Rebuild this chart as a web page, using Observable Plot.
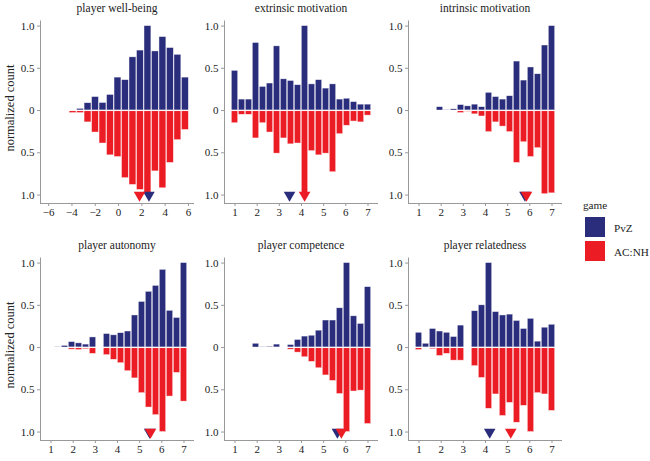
<!DOCTYPE html>
<html><head><meta charset="utf-8">
<script src="https://cdn.jsdelivr.net/npm/d3@7"></script>
<script src="https://cdn.jsdelivr.net/npm/@observablehq/plot@0.6"></script>
<style>
body{margin:0;background:#fff;}
#root{position:relative;width:650px;height:461px;font-family:"Liberation Serif","DejaVu Serif",serif;color:#222;background:#fff;}
#root svg, #root svg text{font-family:"Liberation Serif","DejaVu Serif",serif !important;}
.title{position:absolute;font-size:11.5px;transform:translate(-50%,-50%);white-space:nowrap;}
.ylab{position:absolute;font-size:12.5px;transform:translate(-50%,-50%) rotate(-90deg);white-space:nowrap;}
.panel{position:absolute;}
.leg{position:absolute;font-size:11.2px;white-space:nowrap;transform:translateY(-50%);}
.sw{position:absolute;width:20px;height:20px;}
</style></head><body><div id="root"></div>
<script>
// ---- data ----
const titles = ["player well-being","extrinsic motivation","intrinsic motivation","player autonomy","player competence","player relatedness"];
const games = ["PvZ","AC:NH"];
const gameColors = ["#2a2d7c","#eb1c24"];

const wellbeingPvZ  = [0,0,0.02,0.087,0.16,0.09,0.185,0.39,0.36,0.63,0.71,1.0,0.70,0.87,0.74,0.66,0.39];
const wellbeingACNH = [0.01,0.03,0.03,0.14,0.26,0.39,0.53,0.55,0.80,0.88,0.94,0.99,0.72,0.92,0.62,0.35,0.23];

const extrinsicPvZ  = [0.47,0.13,0.13,0.80,0.28,0.32,0.76,0.37,0.35,0.30,1.0,0.31,0.36,0.26,0.31,0.13,0.14,0.10,0.07,0.07];
const extrinsicACNH = [0.15,0.05,0.05,0.33,0.15,0.26,0.51,0.33,0.40,0.39,1.0,0.48,0.53,0.51,0.73,0.28,0.18,0.13,0.14,0.06];

const intrinsicPvZ  = [0,0,0,0.04,0.005,0.015,0.065,0.05,0.07,0.04,0.21,0.16,0.13,0.17,0.58,0.355,0.51,0.43,0.77,1.0];
const intrinsicACNH = [0,0,0,0,0,0,0.03,0.015,0.045,0.07,0.255,0.14,0.19,0.255,0.62,0.375,0.55,0.445,0.99,0.98];

const autonomyPvZ  = [0,0.005,0.02,0.065,0.05,0.035,0.12,0,0.16,0.145,0.17,0.19,0.38,0.54,0.66,0.73,0.92,0.435,0.35,1.0];
const autonomyACNH = [0,0,0,0.025,0.03,0.02,0.075,0,0.09,0.145,0.185,0.28,0.365,0.54,0.71,0.80,1.0,0.58,0.30,0.64];

const competencePvZ  = [0,0,0,0.045,0.005,0.01,0.035,0,0.03,0.09,0.13,0.14,0.20,0.32,0.32,0.465,1.0,0.37,0.28,0.715];
const competenceACNH = [0,0,0,0,0,0.01,0.01,0,0.025,0.06,0.115,0.17,0.245,0.33,0.395,0.55,1.0,0.52,0.51,0.905];

const relatednessPvZ  = [0.175,0.045,0.22,0.19,0.175,0.125,0.26,0,0.43,0.50,1.0,0.42,0.38,0.39,0.315,0.22,0.34,0.07,0.235,0.27];
const relatednessACNH = [0.03,0.01,0.02,0.10,0.075,0.155,0.155,0,0.22,0.36,0.725,0.555,0.81,0.655,0.89,0.69,1.0,0.54,0.555,0.75];

const meansPvZ  = [2.61, 3.46, 5.78, 5.45, 5.62, 4.19];
const meansACNH = [1.80, 4.14, 5.85, 5.49, 5.80, 5.14];

const wellbeingTicks = [-6,-4,-2,0,2,4,6];
const likertTicks = [1,2,3,4,5,6,7];
const countTicks = [-1,-0.5,0,0.5,1];

// histogram bins (centre of first bin, bin width)
const wellbeingBins = {first: -4.55, width: 0.643};
const likertBins = {first: 1, width: 6/19};

// ---- build ----
const series = [
  [wellbeingPvZ, wellbeingACNH, wellbeingBins, wellbeingTicks, [-6.7, 6.52]],
  [extrinsicPvZ, extrinsicACNH, likertBins, likertTicks, [0.526, 7.474]],
  [intrinsicPvZ, intrinsicACNH, likertBins, likertTicks, [0.526, 7.474]],
  [autonomyPvZ, autonomyACNH, likertBins, likertTicks, [0.526, 7.474]],
  [competencePvZ, competenceACNH, likertBins, likertTicks, [0.526, 7.474]],
  [relatednessPvZ, relatednessACNH, likertBins, likertTicks, [0.526, 7.474]]
];
const yDomain = [-1.1, 1.06];
const serif = '"Liberation Serif", "DejaVu Serif", serif';

const triangleDown = {
  draw(ctx, size) {
    const y = Math.sqrt(size / (Math.sqrt(3) * 3));
    ctx.moveTo(0, 2 * y);
    ctx.lineTo(-Math.sqrt(3) * y, -y);
    ctx.lineTo(Math.sqrt(3) * y, -y);
    ctx.closePath();
  }
};

const root = document.getElementById("root");
const colLeft = [0, 184, 368];
const rowTop = [0, 237];

series.forEach(([pvz, acnh, bins, ticks, xDomain], p) => {
  const bars = [];
  pvz.forEach((v, i) => {
    const c = bins.first + i * bins.width;
    if (v > 0) bars.push({x1: c - bins.width / 2, x2: c + bins.width / 2, y1: 0, y2: v, game: "PvZ"});
  });
  acnh.forEach((v, i) => {
    const c = bins.first + i * bins.width;
    if (v > 0) bars.push({x1: c - bins.width / 2, x2: c + bins.width / 2, y1: 0, y2: -v, game: "AC:NH"});
  });
  const means = [{x: meansPvZ[p], game: "PvZ"}, {x: meansACNH[p], game: "AC:NH"}];

  const chart = Plot.plot({
    width: 195, height: 223,
    marginLeft: 40, marginRight: 1, marginTop: 20.5, marginBottom: 20,
    style: {fontFamily: serif, fontSize: "10.5px", color: "#222", background: "transparent", overflow: "visible"},
    x: {domain: xDomain},
    y: {domain: yDomain},
    color: {domain: games, range: gameColors},
    marks: [
      Plot.rect(bars, {x1: "x1", x2: "x2", y1: "y1", y2: "y2", fill: "game", stroke: "white", strokeWidth: 0.6, strokeOpacity: 0.7, insetLeft: 0.3, insetRight: 0.3}),
      Plot.ruleY([0], {stroke: "white", strokeWidth: 1}),
      Plot.dot(means, {x: "x", y: () => -1, fill: "game", symbol: triangleDown, r: 4.3}),
      Plot.ruleX([xDomain[0]], {stroke: "#999", strokeWidth: 1}),
      Plot.ruleY([yDomain[0]], {stroke: "#999", strokeWidth: 1}),
      Plot.axisY(countTicks, {tickSize: 3, tickPadding: 3, stroke: "#999", fill: "#222", fontFamily: serif, fontSize: 11,
        tickFormat: d => d === 0 ? "0" : Math.abs(d).toFixed(1), label: null}),
      Plot.axisX(ticks, {tickSize: 3, tickPadding: 2, stroke: "#999", fill: "#222", fontFamily: serif, fontSize: 11, label: null})
    ]
  });
  const col = p % 3, row = Math.floor(p / 3);
  chart.classList.add("panel");
  chart.style.left = colLeft[col] + "px";
  chart.style.top = rowTop[row] + "px";
  root.appendChild(chart);

  const t = document.createElement("div");
  t.className = "title";
  t.textContent = titles[p];
  t.style.left = (colLeft[col] + 40 + 77) + "px";
  t.style.top = (rowTop[row] + 8) + "px";
  root.appendChild(t);

  if (col === 0) {
    const yl = document.createElement("div");
    yl.className = "ylab";
    yl.textContent = "normalized count";
    yl.style.left = "10px";
    yl.style.top = (rowTop[row] + 108) + "px";
    root.appendChild(yl);
  }
});

// legend
const lt = document.createElement("div");
lt.className = "leg"; lt.textContent = "game";
lt.style.left = "583px"; lt.style.top = "205px";
root.appendChild(lt);
games.forEach((g, i) => {
  const sw = document.createElement("div");
  sw.className = "sw";
  sw.style.left = "585px"; sw.style.top = (217 + i * 24) + "px";
  sw.style.background = gameColors[i];
  root.appendChild(sw);
  const lb = document.createElement("div");
  lb.className = "leg"; lb.textContent = g;
  lb.style.left = "614px"; lb.style.top = (228 + i * 23.5) + "px";
  root.appendChild(lb);
});
</script></body></html>
